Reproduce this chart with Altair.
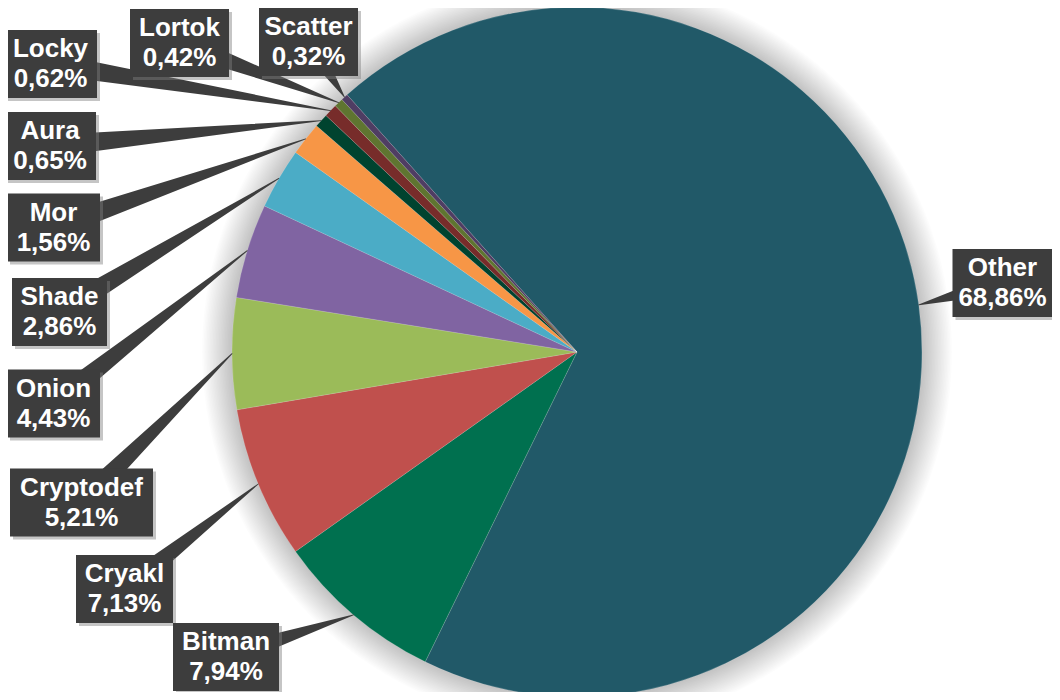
import math
import altair as alt
import pandas as pd

# ---- data ----
names = ["Other", "Bitman", "Cryakl", "Cryptodef", "Onion", "Shade", "Mor",
         "Aura", "Locky", "Lortok", "Scatter"]
values = [68.86, 7.94, 7.13, 5.21, 4.43, 2.86, 1.56, 0.65, 0.62, 0.42, 0.32]
colors = ["#215968", "#00704F", "#C0504D", "#9BBB59", "#8064A2", "#4BACC6",
          "#F79646", "#00432F", "#772C2A", "#5F7530", "#4F3D63"]

# ---- layout (style, pixels inside the chart) ----
W, H = 1044, 684
CX, CY, R = 569, 344, 345
START_DEG = 318.2
label_cx = [994.5, 218, 116.5, 73.5, 45.5, 51.5, 45.5, 42, 42.5, 171.5, 300.5]
label_cy = [275, 649, 581, 494.5, 395.5, 304, 219.5, 138, 56, 35, 34]
label_hw = [50, 53, 48.5, 71.5, 46.5, 47.5, 46.5, 46, 46.5, 49.5, 49.5]
HH = 34
WEDGE_W = 22
BOX = "#3D3D3D"
FONT = "Liberation Sans"

total = sum(values)
pct = [f"{v:.2f}".replace(".", ",") + "%" for v in values]

pie_df = pd.DataFrame({"name": names, "value": values, "idx": list(range(len(names)))})

# slice mid-angles -> leader tips on the pie edge
tips_x, tips_y = [], []
acc = 0.0
for v in values:
    mid = math.radians(START_DEG + (acc + v / 2) / total * 360)
    tips_x.append(CX + R * math.sin(mid))
    tips_y.append(CY - R * math.cos(mid))
    acc += v

trail_rows = []
for i, n in enumerate(names):
    trail_rows.append({"name": n, "k": 0, "px": label_cx[i], "py": label_cy[i], "w": WEDGE_W})
    trail_rows.append({"name": n, "k": 1, "px": tips_x[i], "py": tips_y[i], "w": 0.8})
trail_df = pd.DataFrame(trail_rows)

lab_df = pd.DataFrame({
    "name": names, "pct": pct,
    "cx": label_cx, "cy": label_cy,
    "x1": [c - h for c, h in zip(label_cx, label_hw)],
    "x2": [c + h for c, h in zip(label_cx, label_hw)],
    "y1": [c - HH for c in label_cy],
    "y2": [c + HH for c in label_cy],
})
lab_df["ty1"] = lab_df["cy"] - 15
lab_df["ty2"] = lab_df["cy"] + 15

start = math.radians(START_DEG)
one = pd.DataFrame({"a": [0]})

glow_layers = []
for k in range(1, 21):
    glow_layers.append(
        alt.Chart(one).mark_arc(fill="#000000", fillOpacity=0.012, strokeWidth=0,
                                radius=R + 1.5 * k, theta=0, theta2=2 * math.pi).encode(
            x=alt.value(CX), y=alt.value(CY))
    )

pie = alt.Chart(pie_df).mark_arc(stroke="#ffffff", strokeWidth=0.3, strokeOpacity=0.5).encode(
    x=alt.value(CX), y=alt.value(CY),
    radius=alt.value(R),
    theta=alt.Theta("value:Q", stack=True,
                    scale=alt.Scale(range=[start, start + 2 * math.pi])),
    color=alt.Color("name:N", scale=alt.Scale(domain=names, range=colors), legend=None),
    order=alt.Order("idx:Q"),
)

wedges = alt.Chart(trail_df).mark_trail(color=BOX).encode(
    x=alt.X("px:Q", scale=None),
    y=alt.Y("py:Q", scale=None),
    size=alt.Size("w:Q", scale=None, legend=None),
    detail="name:N",
    order="k:Q",
)

shadow = alt.Chart(lab_df).mark_rect(color="#7F7F7F", opacity=0.45, xOffset=3, yOffset=3, x2Offset=3, y2Offset=3).encode(
    x=alt.X("x1:Q", scale=None), x2="x2:Q",
    y=alt.Y("y1:Q", scale=None), y2="y2:Q",
)

boxes = alt.Chart(lab_df).mark_rect(color=BOX).encode(
    x=alt.X("x1:Q", scale=None), x2="x2:Q",
    y=alt.Y("y1:Q", scale=None), y2="y2:Q",
)

t1 = alt.Chart(lab_df).mark_text(color="#ffffff", font=FONT, fontWeight="bold",
                                 fontSize=26, baseline="middle", align="center").encode(
    x=alt.X("cx:Q", scale=None), y=alt.Y("ty1:Q", scale=None), text="name:N")
t2 = alt.Chart(lab_df).mark_text(color="#ffffff", font=FONT, fontWeight="bold",
                                 fontSize=26, baseline="middle", align="center").encode(
    x=alt.X("cx:Q", scale=None), y=alt.Y("ty2:Q", scale=None), text="pct:N")

chart = alt.layer(*glow_layers, pie, wedges, shadow, boxes, t1, t2).properties(
    width=W, height=H, padding=0, autosize="none", background="#ffffff",
).configure_view(stroke=None).configure_axis(grid=False)

chart.save("out.html", embed_options={"renderer": "svg", "actions": False})
